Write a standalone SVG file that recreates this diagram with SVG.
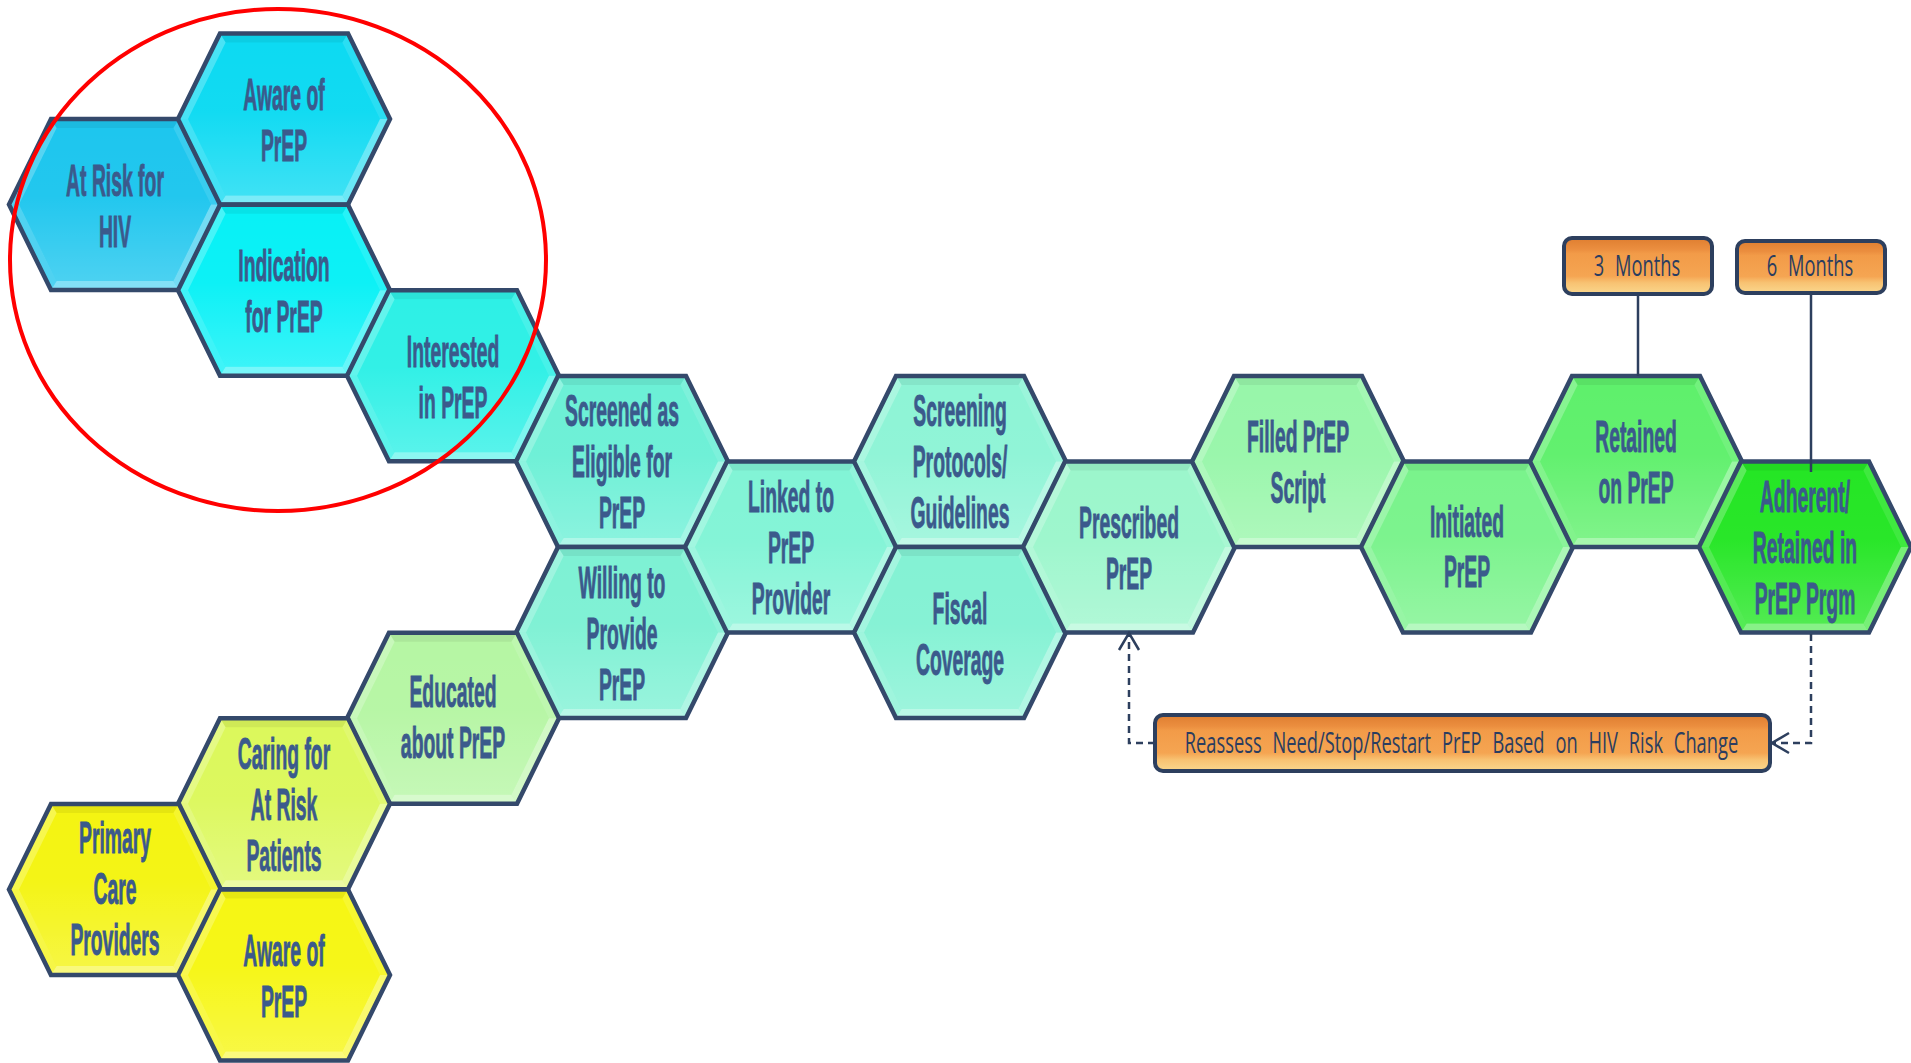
<svg xmlns="http://www.w3.org/2000/svg" xmlns:xlink="http://www.w3.org/1999/xlink" width="1911" height="1063" viewBox="0 0 1911 1063">
<style>
.t{font-family:"Liberation Sans",Arial,sans-serif;font-weight:bold;font-size:45px;fill:#3B5A8C;text-anchor:middle;stroke:#3B5A8C;stroke-width:0.9;vector-effect:non-scaling-stroke}
.bt{font-family:"Open Sans","Liberation Sans",Arial,sans-serif;font-size:30px;fill:#2B3D60;text-anchor:middle;word-spacing:10px}
.outline{fill:none;stroke:#34496B;stroke-width:4.5;stroke-linejoin:miter}
.box{fill:url(#boxGrad);stroke:#2D3F5E;stroke-width:4}
.lead{fill:none;stroke:#2D3F5E;stroke-width:2.5}
.dash{fill:none;stroke:#2D3F5E;stroke-width:2.5;stroke-dasharray:7 5}
.ring{fill:none;stroke:#FF0000;stroke-width:4}
</style>
<defs>
<linearGradient id="faceGrad" x1="0" y1="0" x2="0" y2="1">
<stop offset="0" stop-color="#fff" stop-opacity="0"/>
<stop offset="0.45" stop-color="#fff" stop-opacity="0.02"/>
<stop offset="1" stop-color="#fff" stop-opacity="0.2"/>
</linearGradient>
<linearGradient id="boxGrad" x1="0" y1="0" x2="0" y2="1">
<stop offset="0" stop-color="#DF7E30"/>
<stop offset="0.2" stop-color="#EB8E3F"/>
<stop offset="0.28" stop-color="#F29B48"/>
<stop offset="0.68" stop-color="#F5A552"/>
<stop offset="0.8" stop-color="#F8C272"/>
<stop offset="1" stop-color="#FAD78D"/>
</linearGradient>
<polygon id="hex" points="-106,0 -64,-85.5 64,-85.5 106,0 64,85.5 -64,85.5"/>
<g id="deco">
<polygon points="-96,0 -58.4,-76.5 58.4,-76.5 96,0 58.4,76.5 -58.4,76.5" fill="url(#faceGrad)"/>
<polygon points="-64,-85.5 64,-85.5 58.4,-76.5 -58.4,-76.5" fill="#000" fill-opacity="0.06"/>
<polygon points="64,-85.5 106,0 96,0 58.4,-76.5" fill="#fff" fill-opacity="0.12"/>
<polygon points="106,0 64,85.5 58.4,76.5 96,0" fill="#fff" fill-opacity="0.38"/>
<polygon points="64,85.5 -64,85.5 -58.4,76.5 58.4,76.5" fill="#fff" fill-opacity="0.45"/>
<polygon points="-64,85.5 -106,0 -96,0 -58.4,76.5" fill="#fff" fill-opacity="0.22"/>
<polygon points="-106,0 -64,-85.5 -58.4,-76.5 -96,0" fill="#fff" fill-opacity="0.25"/>
<use href="#hex" class="outline"/>
</g>
<marker id="arr" markerUnits="userSpaceOnUse" markerWidth="24" markerHeight="26" refX="19" refY="12" orient="auto">
<path d="M2,2 L19,12 L2,22" fill="none" stroke="#2D3F5E" stroke-width="2.5"/>
</marker>
</defs>

<g id="n-at-risk-hiv" transform="translate(115,204.6)">
<use href="#hex" fill="#1EC6EE"/><use href="#deco"/>
<text class="t" transform="scale(0.43,1)"><tspan x="0" y="-9">At Risk for</tspan><tspan x="0" y="42">HIV</tspan></text>
</g>
<g id="n-aware-prep-1" transform="translate(284,119)">
<use href="#hex" fill="#0DDAF2"/><use href="#deco"/>
<text class="t" transform="scale(0.43,1)"><tspan x="0" y="-9">Aware of</tspan><tspan x="0" y="42">PrEP</tspan></text>
</g>
<g id="n-indication" transform="translate(284,290.2)">
<use href="#hex" fill="#08F1F6"/><use href="#deco"/>
<text class="t" transform="scale(0.43,1)"><tspan x="0" y="-9">Indication</tspan><tspan x="0" y="42">for PrEP</tspan></text>
</g>
<g id="n-interested" transform="translate(453,375.8)">
<use href="#hex" fill="#2EF0E6"/><use href="#deco"/>
<text class="t" transform="scale(0.43,1)"><tspan x="0" y="-9">Interested</tspan><tspan x="0" y="42">in PrEP</tspan></text>
</g>
<g id="n-screened" transform="translate(622,461.4)">
<use href="#hex" fill="#6CF0D6"/><use href="#deco"/>
<text class="t" transform="scale(0.43,1)"><tspan x="0" y="-35">Screened as</tspan><tspan x="0" y="16">Eligible for</tspan><tspan x="0" y="67">PrEP</tspan></text>
</g>
<g id="n-willing" transform="translate(622,632.6)">
<use href="#hex" fill="#7EF1D4"/><use href="#deco"/>
<text class="t" transform="scale(0.43,1)"><tspan x="0" y="-35">Willing to</tspan><tspan x="0" y="16">Provide</tspan><tspan x="0" y="67">PrEP</tspan></text>
</g>
<g id="n-linked" transform="translate(791,547)">
<use href="#hex" fill="#82F4D6"/><use href="#deco"/>
<text class="t" transform="scale(0.43,1)"><tspan x="0" y="-35">Linked to</tspan><tspan x="0" y="16">PrEP</tspan><tspan x="0" y="67">Provider</tspan></text>
</g>
<g id="n-screening-protocols" transform="translate(960,461.4)">
<use href="#hex" fill="#8EF4D6"/><use href="#deco"/>
<text class="t" transform="scale(0.43,1)"><tspan x="0" y="-35">Screening</tspan><tspan x="0" y="16">Protocols/</tspan><tspan x="0" y="67">Guidelines</tspan></text>
</g>
<g id="n-fiscal" transform="translate(960,632.6)">
<use href="#hex" fill="#84F2D4"/><use href="#deco"/>
<text class="t" transform="scale(0.43,1)"><tspan x="0" y="-9">Fiscal</tspan><tspan x="0" y="42">Coverage</tspan></text>
</g>
<g id="n-prescribed" transform="translate(1129,547)">
<use href="#hex" fill="#9CF6CC"/><use href="#deco"/>
<text class="t" transform="scale(0.43,1)"><tspan x="0" y="-9">Prescribed</tspan><tspan x="0" y="42">PrEP</tspan></text>
</g>
<g id="n-filled" transform="translate(1298,461.4)">
<use href="#hex" fill="#98F6AA"/><use href="#deco"/>
<text class="t" transform="scale(0.43,1)"><tspan x="0" y="-9">Filled PrEP</tspan><tspan x="0" y="42">Script</tspan></text>
</g>
<g id="n-initiated" transform="translate(1467,547)">
<use href="#hex" fill="#7AF38C"/><use href="#deco"/>
<text class="t" transform="scale(0.43,1)"><tspan x="0" y="-10">Initiated</tspan><tspan x="0" y="40">PrEP</tspan></text>
</g>
<g id="n-retained" transform="translate(1636,461.4)">
<use href="#hex" fill="#5FF06C"/><use href="#deco"/>
<text class="t" transform="scale(0.43,1)"><tspan x="0" y="-9">Retained</tspan><tspan x="0" y="42">on PrEP</tspan></text>
</g>
<g id="n-adherent" transform="translate(1805,547)">
<use href="#hex" fill="#25E625"/><use href="#deco"/>
<text class="t" transform="scale(0.43,1)"><tspan x="0" y="-35">Adherent/</tspan><tspan x="0" y="16">Retained in</tspan><tspan x="0" y="67">PrEP Prgm</tspan></text>
</g>
<g id="n-educated" transform="translate(453,718.2)">
<use href="#hex" fill="#B6F6A4"/><use href="#deco"/>
<text class="t" transform="scale(0.43,1)"><tspan x="0" y="-11">Educated</tspan><tspan x="0" y="40">about PrEP</tspan></text>
</g>
<g id="n-caring" transform="translate(284,803.8)">
<use href="#hex" fill="#DCF85C"/><use href="#deco"/>
<text class="t" transform="scale(0.43,1)"><tspan x="0" y="-35">Caring for</tspan><tspan x="0" y="16">At Risk</tspan><tspan x="0" y="67">Patients</tspan></text>
</g>
<g id="n-primary" transform="translate(115,889.4)">
<use href="#hex" fill="#F4F412"/><use href="#deco"/>
<text class="t" transform="scale(0.43,1)"><tspan x="0" y="-36">Primary</tspan><tspan x="0" y="15">Care</tspan><tspan x="0" y="66">Providers</tspan></text>
</g>
<g id="n-aware-prep-2" transform="translate(284,975)">
<use href="#hex" fill="#F6F614"/><use href="#deco"/>
<text class="t" transform="scale(0.43,1)"><tspan x="0" y="-9">Aware of</tspan><tspan x="0" y="42">PrEP</tspan></text>
</g>

<g id="n-3-months">
<rect class="box" x="1564" y="238" width="148" height="56" rx="8"/>
<text class="bt" transform="translate(1637,276) scale(0.61,1)" x="0" y="0">3 Months</text>
</g>
<g id="n-6-months">
<rect class="box" x="1737" y="241" width="148" height="52" rx="8"/>
<text class="bt" transform="translate(1810,276) scale(0.61,1)" x="0" y="0">6 Months</text>
</g>
<g id="n-reassess">
<rect class="box" x="1155" y="715" width="615" height="56" rx="8"/>
<text class="bt" transform="translate(1461.5,753) scale(0.61,1)" x="0" y="0">Reassess Need/Stop/Restart PrEP Based on HIV Risk Change</text>
</g>

<g id="connectors">
<path class="lead" d="M1638,294 L1638,376"/>
<path class="lead" d="M1811,293 L1811,472"/>
<path class="dash" d="M1811,634 L1811,743 L1772,743" marker-end="url(#arr)"/>
<path class="dash" d="M1155,743 L1129,743 L1129,633" marker-end="url(#arr)"/>
</g>

<g id="highlight-ring">
<ellipse class="ring" cx="278" cy="260" rx="268" ry="251"/>
</g>
</svg>
